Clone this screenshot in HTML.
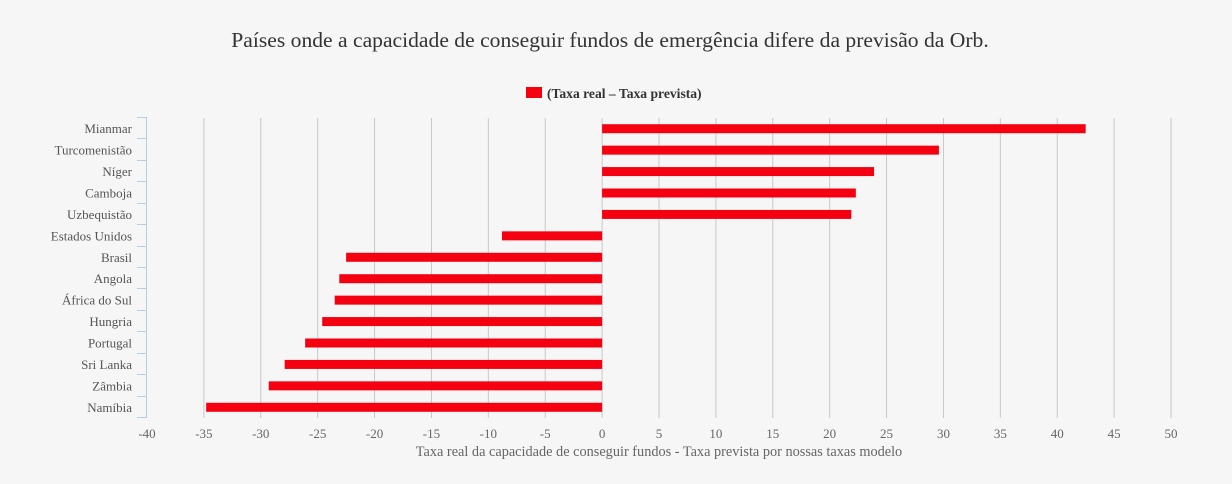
<!DOCTYPE html>
<html><head><meta charset="utf-8"><style>
body{margin:0;background:#f6f6f6;}
svg{display:block;font-family:"Liberation Serif","DejaVu Serif",serif;}
</style></head><body>
<svg id="c" width="1232" height="484">
<rect width="1232" height="484" fill="#f6f6f6"/>
<text x="610" y="47" text-anchor="middle" font-size="21.6" fill="#333">Países onde a capacidade de conseguir fundos de emergência difere da previsão da Orb.</text>
<g>
<rect x="526" y="87" width="16" height="11" fill="#f50010"/>
<text x="547" y="98" font-size="13.6" font-weight="bold" fill="#333">(Taxa real – Taxa prevista)</text>
</g>
<g id="grid"></g><g id="bars"></g><g id="ylab"></g><g id="xlab"></g>
<text x="659" y="456" text-anchor="middle" font-size="14.3" fill="#666">Taxa real da capacidade de conseguir fundos - Taxa prevista por nossas taxas modelo</text>
</svg>
<script>
const categories=["Mianmar","Turcomenistão","Níger","Camboja","Uzbequistão","Estados Unidos","Brasil","Angola","África do Sul","Hungria","Portugal","Sri Lanka","Zâmbia","Namíbia"];
const values=[42.5,29.6,23.9,22.3,21.9,-8.8,-22.5,-23.1,-23.5,-24.6,-26.1,-27.9,-29.3,-34.8];
const ticks=[-40,-35,-30,-25,-20,-15,-10,-5,0,5,10,15,20,25,30,35,40,45,50];
const NS="http://www.w3.org/2000/svg";
const xs=v=>147+(v+40)*1024/90;
const pTop=118,pBot=418,band=(pBot-pTop)/categories.length;
function mk(t,a,p){const e=document.createElementNS(NS,t);for(const k in a)e.setAttribute(k,a[k]);p.appendChild(e);return e;}
const g=document.getElementById('grid'),b=document.getElementById('bars'),yl=document.getElementById('ylab'),xl=document.getElementById('xlab');
ticks.forEach(t=>{
 if(t>-40){const l=mk('line',{x1:xs(t),x2:xs(t),y1:pTop,y2:pBot,stroke:'#c8c8c8','stroke-width':1},g);
 
 }
 const tx=mk('text',{x:xs(t),y:438,'text-anchor':'middle','font-size':13,fill:'#666'},xl);tx.textContent=t;
 
 
});
const ax=mk('line',{x1:146.5,x2:146.5,y1:pTop,y2:pBot,stroke:'#b8cce4'},g);


for(let i=0;i<=categories.length;i++){const y=Math.round(pTop+i*band)-0.5;mk('line',{x1:137,x2:147,y1:y,y2:y,stroke:'#b8cce4'},g);}
categories.forEach((c,i)=>{
 const cy=pTop+(i+0.5)*band,v=values[i];
 const r=mk('rect',{x:Math.min(xs(0),xs(v)),y:cy-4.5,width:Math.abs(xs(v)-xs(0)),height:9,fill:'#f50010'},b);
 
 
 const t=mk('text',{x:132,y:cy+4.5,'text-anchor':'end','font-size':13,fill:'#555'},yl);t.textContent=c;
 
 
});
</script>
</body></html>
